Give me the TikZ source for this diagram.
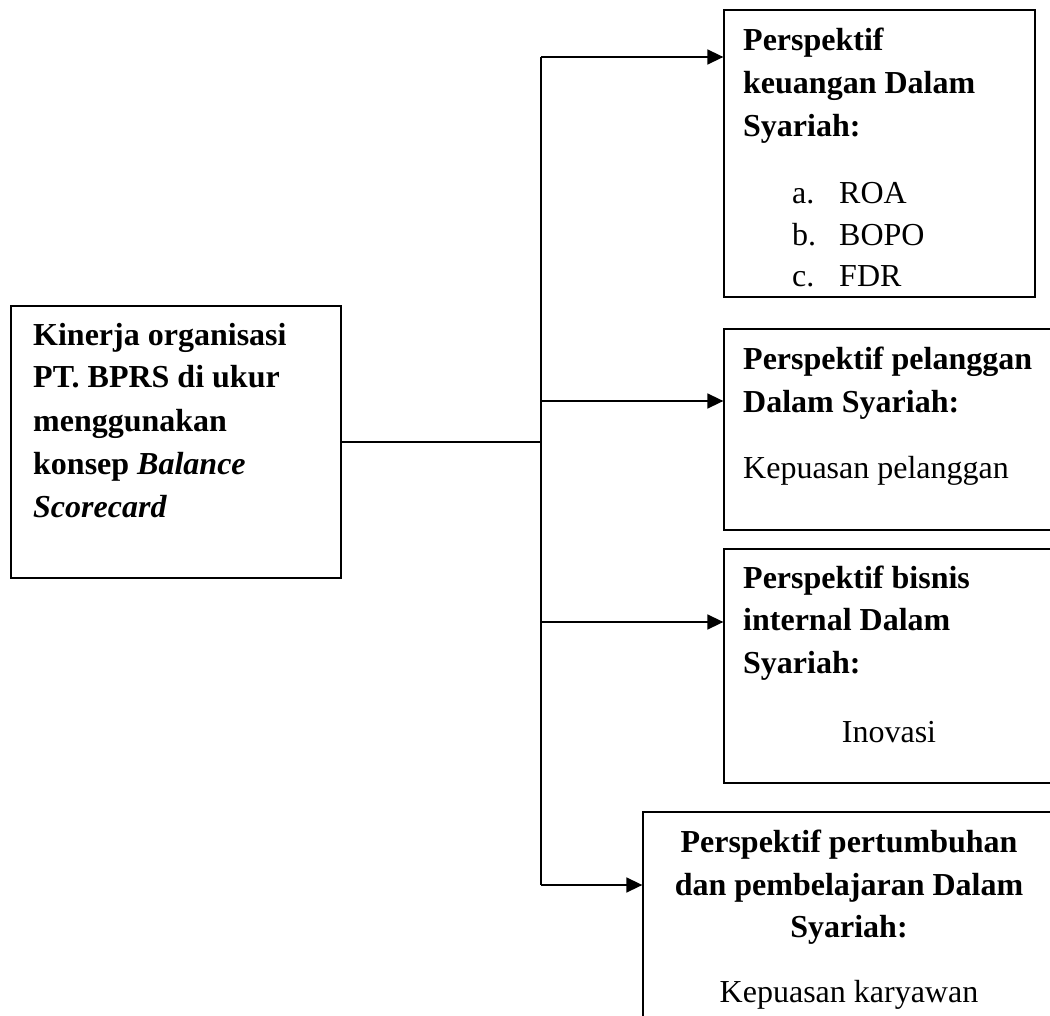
\documentclass[tikz,border=0pt]{standalone}
\usepackage{fontspec}
\setmainfont{Liberation Serif}
\usetikzlibrary{arrows.meta}
\tikzset{
  box/.style={draw=black, line width=1.3pt, rectangle, inner sep=0pt, fill=none},
  conn/.style={draw=black, line width=1.6pt},
  arr/.style={conn, -{Triangle[length=16pt,width=15pt]}},
  ln/.style={inner sep=0pt, anchor=base west, font=\fontsize{32}{43}\selectfont},
  lnb/.style={ln, font=\fontsize{32}{43}\selectfont\bfseries},
  lnc/.style={inner sep=0pt, anchor=base, font=\fontsize{32}{43}\selectfont},
  lncb/.style={lnc, font=\fontsize{32}{43}\selectfont\bfseries},
}
\begin{document}
\begin{tikzpicture}[x=1pt,y=-1pt]
\useasboundingbox (0,0) rectangle (1050,1016);
\clip (0,0) rectangle (1050,1016);
% boxes
\node[box, minimum width=330pt, minimum height=272pt] (main) at (176,442) {};
\node[box, minimum width=311pt, minimum height=287pt] (keu) at (879.5,153.5) {};
\node[box, minimum width=336pt, minimum height=201pt] (pel) at (892,429.5) {};
\node[box, minimum width=336pt, minimum height=234pt] (bis) at (892,666) {};
\node[box, minimum width=417pt, minimum height=218pt] (tum) at (851.5,921) {};
% texts: main
\node[lnb] (m1) at (33,345) {Kinerja organisasi};
\node[lnb] (m2) at (33,388) {PT. BPRS di ukur};
\node[lnb] (m3) at (33,431) {menggunakan};
\node[lnb] (m4) at (33,474) {konsep \textit{Balance}};
\node[lnb] (m5) at (33,517) {\textit{Scorecard}};
% keuangan
\node[lnb] (k1) at (743,51) {Perspektif};
\node[lnb] (k2) at (743,94) {keuangan Dalam};
\node[lnb] (k3) at (743,137) {Syariah:};
\node[ln] (ka) at (792,204) {a.};
\node[ln] (kat) at (839,204) {ROA};
\node[ln] (kb) at (792,246) {b.};
\node[ln] (kbt) at (839,246) {BOPO};
\node[ln] (kc) at (792,287) {c.};
\node[ln] (kct) at (839,287) {FDR};
% pelanggan
\node[lnb] (p1) at (743,370) {Perspektif pelanggan};
\node[lnb] (p2) at (743,413) {Dalam Syariah:};
\node[ln] (p3) at (743,478) {Kepuasan pelanggan};
% bisnis
\node[lnb] (b1) at (743,588) {Perspektif bisnis};
\node[lnb] (b2) at (743,630) {internal Dalam};
\node[lnb] (b3) at (743,673) {Syariah:};
\node[lnc] (b4) at (889,742) {Inovasi};
% pertumbuhan
\node[lncb] (t1) at (849,852) {Perspektif pertumbuhan};
\node[lncb] (t2) at (849,895) {dan pembelajaran Dalam};
\node[lncb] (t3) at (849,937) {Syariah:};
\node[lnc] (t4) at (849,1002) {Kepuasan karyawan};
% connectors
\coordinate (s1) at (541,57);
\coordinate (sm) at (541,442);
\coordinate (s2) at (541,401);
\coordinate (s3) at (541,622);
\coordinate (s4) at (541,885);
\draw[conn] (main.east) -- (sm);
\draw[conn] (s1) -- (s4);
\draw[arr] (s1) -- (s1 -| keu.west);
\draw[arr] (s2) -- (s2 -| pel.west);
\draw[arr] (s3) -- (s3 -| bis.west);
\draw[arr] (s4) -- (s4 -| tum.west);
\end{tikzpicture}
\end{document}
